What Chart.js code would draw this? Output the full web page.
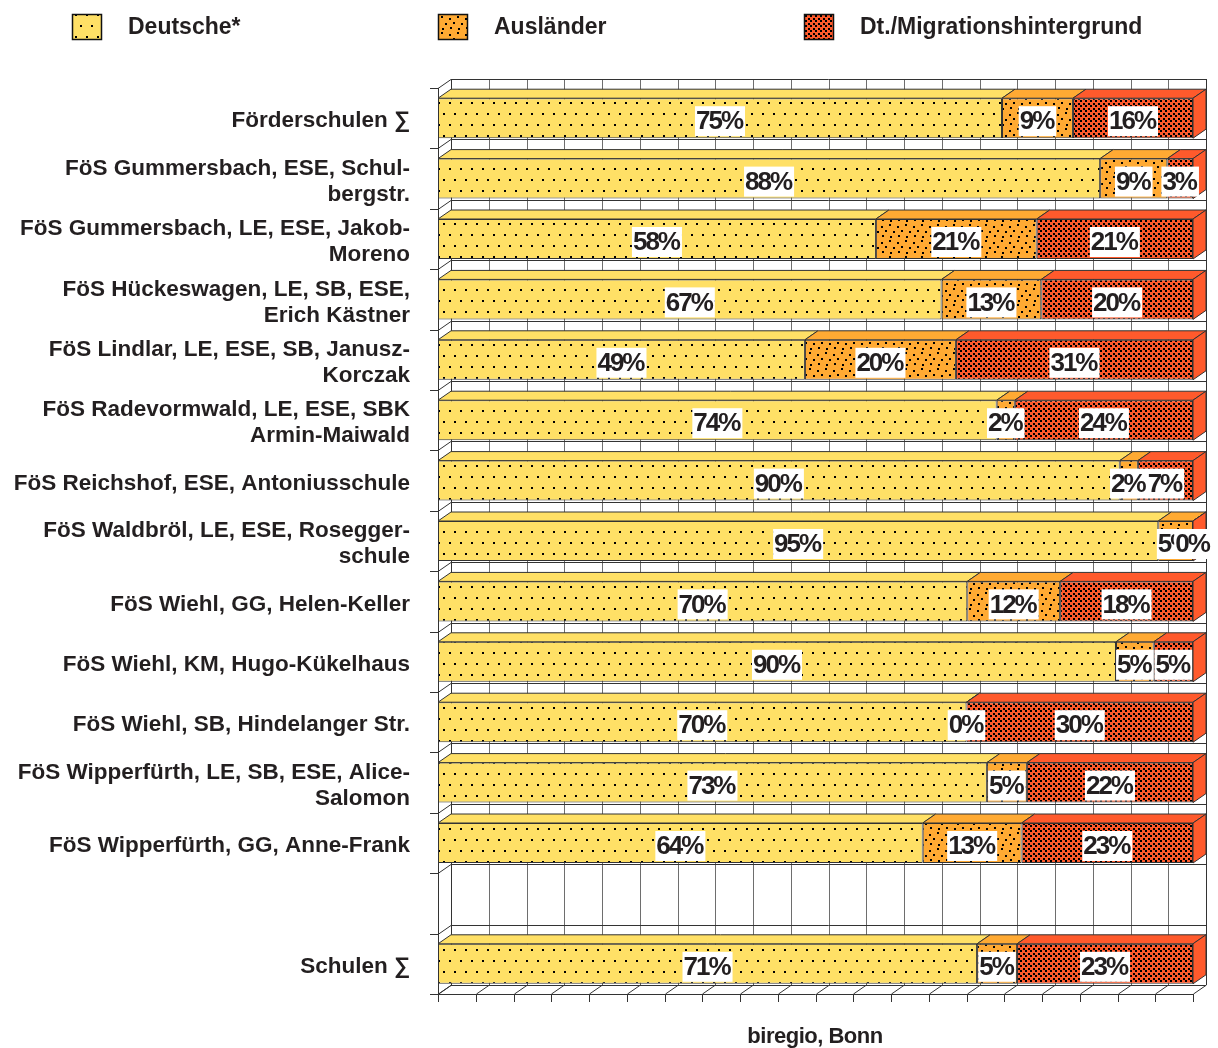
<!DOCTYPE html>
<html>
<head>
<meta charset="utf-8">
<script src="https://cdn.jsdelivr.net/npm/chart.js@4.4.1/dist/chart.umd.min.js"></script>
<style>
  html, body { margin: 0; padding: 0; background: #fff; }
  canvas { display: block; }
</style>
</head>
<body>
<canvas id="myChart" width="1218" height="1048"></canvas>
<script>
const categories = [
  ['Förderschulen ∑'],
  ['FöS Gummersbach, ESE, Schul-', 'bergstr.'],
  ['FöS Gummersbach, LE, ESE, Jakob-', 'Moreno'],
  ['FöS Hückeswagen, LE, SB, ESE,', 'Erich Kästner'],
  ['FöS Lindlar, LE, ESE, SB, Janusz-', 'Korczak'],
  ['FöS Radevormwald, LE, ESE, SBK', 'Armin-Maiwald'],
  ['FöS Reichshof, ESE, Antoniusschule'],
  ['FöS Waldbröl, LE, ESE, Rosegger-', 'schule'],
  ['FöS Wiehl, GG, Helen-Keller'],
  ['FöS Wiehl, KM, Hugo-Kükelhaus'],
  ['FöS Wiehl, SB, Hindelanger Str.'],
  ['FöS Wipperfürth, LE, SB, ESE, Alice-', 'Salomon'],
  ['FöS Wipperfürth, GG, Anne-Frank'],
  [''],
  ['Schulen ∑']
]
const seriesNames = ['Deutsche*', 'Ausländer', 'Dt./Migrationshintergrund']
const deutsche   = [74.7, 87.7, 58.0, 66.7, 48.6, 74.0, 90.3, 95.4, 70.1, 89.8, 70.0, 72.7, 64.2, null, 71.4]
const auslaender = [9.4,  8.9, 21.3, 13.2, 20.0,  2.4,  2.4,  4.6, 12.3,  5.0,  0.0,  5.3, 13.1, null,  5.3]
const migration  = [15.9, 3.4, 20.7, 20.1, 31.4, 23.6,  7.3,  0.0, 17.6,  5.2, 30.0, 22.0, 22.7, null, 23.3]
const xTicks = [0, 5, 10, 15, 20, 25, 30, 35, 40, 45, 50, 55, 60, 65, 70, 75, 80, 85, 90, 95, 100]

const YELLOW = '#FFE066'
const ORANGE = '#FFAA33'
const RED = '#FF5A2C'
const LINE = '#333333'
const TEXT = '#231f20'
const FONT = "'Liberation Sans', Arial, sans-serif"
const DX = 13
const DY = 9

const ctxMain = document.getElementById('myChart').getContext('2d')

// fill patterns like the old office hatchings
function makePattern(base, size, dots) {
  const c = document.createElement('canvas')
  c.width = size
  c.height = size
  const g = c.getContext('2d')
  g.fillStyle = base
  g.fillRect(0, 0, size, size)
  g.fillStyle = '#000'
  dots.forEach(d => g.fillRect(d[0], d[1], 2, 2))
  return ctxMain.createPattern(c, 'repeat')
}

const yellowPat = makePattern(YELLOW, 22, [[3, 3], [14, 3], [9, 14], [20, 14]])
const orangePat = makePattern(ORANGE, 16, [[1, 2], [9, 0], [5, 6], [13, 7], [2, 11], [10, 12]])
const redPat = makePattern(RED, 10, [[0, 0], [5, 0], [0, 5], [5, 5], [3, 3], [8, 3], [3, 8], [8, 8]])

const patterns = [yellowPat, orangePat, redPat]
const solids = [YELLOW, ORANGE, RED]

function line(ctx, x1, y1, x2, y2) {
  ctx.beginPath()
  ctx.moveTo(x1, y1)
  ctx.lineTo(x2, y2)
  ctx.stroke()
}

const threeD = {
  id: 'threeD',
  beforeDatasetsDraw(chart) {
    const ctx = chart.ctx
    const { left, right, top, bottom } = chart.chartArea
    const xs = chart.scales.x
    const n = categories.length
    const step = (bottom - top) / n
    ctx.save()
    // back wall
    ctx.fillStyle = '#fff'
    ctx.fillRect(left + DX, top - DY, right - left, bottom - top)
    ctx.lineWidth = 1
    ctx.strokeStyle = '#6e6e6e'
    xTicks.forEach(v => {
      const x = Math.round(xs.getPixelForValue(v)) + DX + 0.5
      line(ctx, x, top - DY, x, bottom - DY)
    })
    ctx.strokeStyle = LINE
    for (let i = 0; i <= n; i++) {
      const yb = Math.round(top + i * step) + 0.5
      line(ctx, left + DX, yb - DY, right + DX, yb - DY)
      line(ctx, left, yb, left + DX, yb - DY)
      line(ctx, left - 8, yb, left, yb)
    }
    line(ctx, left + DX + 0.5, top - DY, left + DX + 0.5, bottom - DY)
    line(ctx, right + DX + 0.5, top - DY, right + DX + 0.5, bottom - DY)
    line(ctx, left + 0.5, top, left + 0.5, bottom)
    // floor
    line(ctx, left, bottom + 0.5, right, bottom + 0.5)
    xTicks.forEach(v => {
      const x = Math.round(xs.getPixelForValue(v)) + 0.5
      line(ctx, x, bottom, x + DX, bottom - DY)
      line(ctx, x, bottom, x, bottom + 8)
    })
    ctx.restore()
  },
  afterDatasetsDraw(chart) {
    const ctx = chart.ctx
    const last = chart.data.datasets.length - 1
    ctx.save()
    ctx.lineWidth = 1
    ctx.strokeStyle = LINE
    chart.data.datasets.forEach((ds, di) => {
      const meta = chart.getDatasetMeta(di)
      meta.data.forEach((bar, i) => {
        if (ds.data[i] === null) return
        const p = bar.getProps(['x', 'y', 'base', 'height'], true)
        const x0 = Math.min(p.base, p.x)
        const x1 = Math.max(p.base, p.x)
        const yTop = p.y - p.height / 2
        ctx.fillStyle = solids[di]
        ctx.beginPath()
        ctx.moveTo(x0, yTop)
        ctx.lineTo(x1, yTop)
        ctx.lineTo(x1 + DX, yTop - DY)
        ctx.lineTo(x0 + DX, yTop - DY)
        ctx.closePath()
        ctx.fill()
        ctx.stroke()
        if (di === last) {
          ctx.beginPath()
          ctx.moveTo(x1, yTop)
          ctx.lineTo(x1 + DX, yTop - DY)
          ctx.lineTo(x1 + DX, yTop + p.height - DY)
          ctx.lineTo(x1, yTop + p.height)
          ctx.closePath()
          ctx.fill()
          ctx.stroke()
        }
      })
    })
    // value labels
    ctx.font = 'bold 26px ' + FONT
    ctx.letterSpacing = '-2px'
    ctx.textAlign = 'center'
    ctx.textBaseline = 'middle'
    chart.data.datasets.forEach((ds, di) => {
      const meta = chart.getDatasetMeta(di)
      meta.data.forEach((bar, i) => {
        const v = ds.data[i]
        if (v === null) return
        const p = bar.getProps(['x', 'y', 'base'], true)
        const cx = (p.x + p.base) / 2
        const cy = p.y + 3
        const txt = Math.round(v) + '%'
        const w = ctx.measureText(txt).width
        ctx.fillStyle = '#fff'
        ctx.fillRect(cx - w / 2 - 2, cy - 15, w + 4, 30)
        ctx.fillStyle = TEXT
        ctx.fillText(txt, cx - 1, cy + 1)
      })
    })
    ctx.restore()
  },
  afterDraw(chart) {
    const ctx = chart.ctx
    ctx.save()
    // legend
    seriesNames.forEach((name, i) => {
      const bx = 72 + 366 * i
      ctx.fillStyle = patterns[i]
      ctx.fillRect(bx, 14, 29, 25)
      ctx.lineWidth = 1.5
      ctx.strokeStyle = '#111'
      ctx.strokeRect(bx + 0.5, 14.5, 29, 25)
      ctx.fillStyle = TEXT
      ctx.font = 'bold 23px ' + FONT
      ctx.textAlign = 'left'
      ctx.textBaseline = 'middle'
      ctx.fillText(name, bx + 56, 28)
    })
    ctx.font = 'bold 22px ' + FONT
    ctx.letterSpacing = '-0.5px'
    ctx.textAlign = 'center'
    ctx.fillText('biregio, Bonn', 815, 1037)
    ctx.restore()
  }
}

new Chart(ctxMain, {
  type: 'bar',
  data: {
    labels: categories,
    datasets: [
      { label: seriesNames[0], data: deutsche, backgroundColor: yellowPat },
      { label: seriesNames[1], data: auslaender, backgroundColor: orangePat },
      { label: seriesNames[2], data: migration, backgroundColor: redPat }
    ].map(d => Object.assign(d, {
      borderColor: LINE,
      borderWidth: 1,
      borderSkipped: false,
      categoryPercentage: 1,
      barPercentage: 0.662
    }))
  },
  options: {
    indexAxis: 'y',
    responsive: false,
    animation: false,
    devicePixelRatio: 1,
    layout: { padding: { top: 88, right: 25, bottom: 54, left: 0 } },
    plugins: {
      legend: { display: false },
      tooltip: { enabled: false }
    },
    scales: {
      x: { stacked: true, min: 0, max: 100, display: false },
      y: {
        stacked: true,
        grid: { display: false, drawTicks: false },
        border: { display: false },
        ticks: {
          padding: 28,
          labelOffset: 3,
          color: TEXT,
          font: { family: FONT, size: 22.5, weight: 'bold', lineHeight: 1.15 }
        },
        afterFit(scale) { scale.width = 438 }
      }
    }
  },
  plugins: [threeD]
})
</script>
</body>
</html>
